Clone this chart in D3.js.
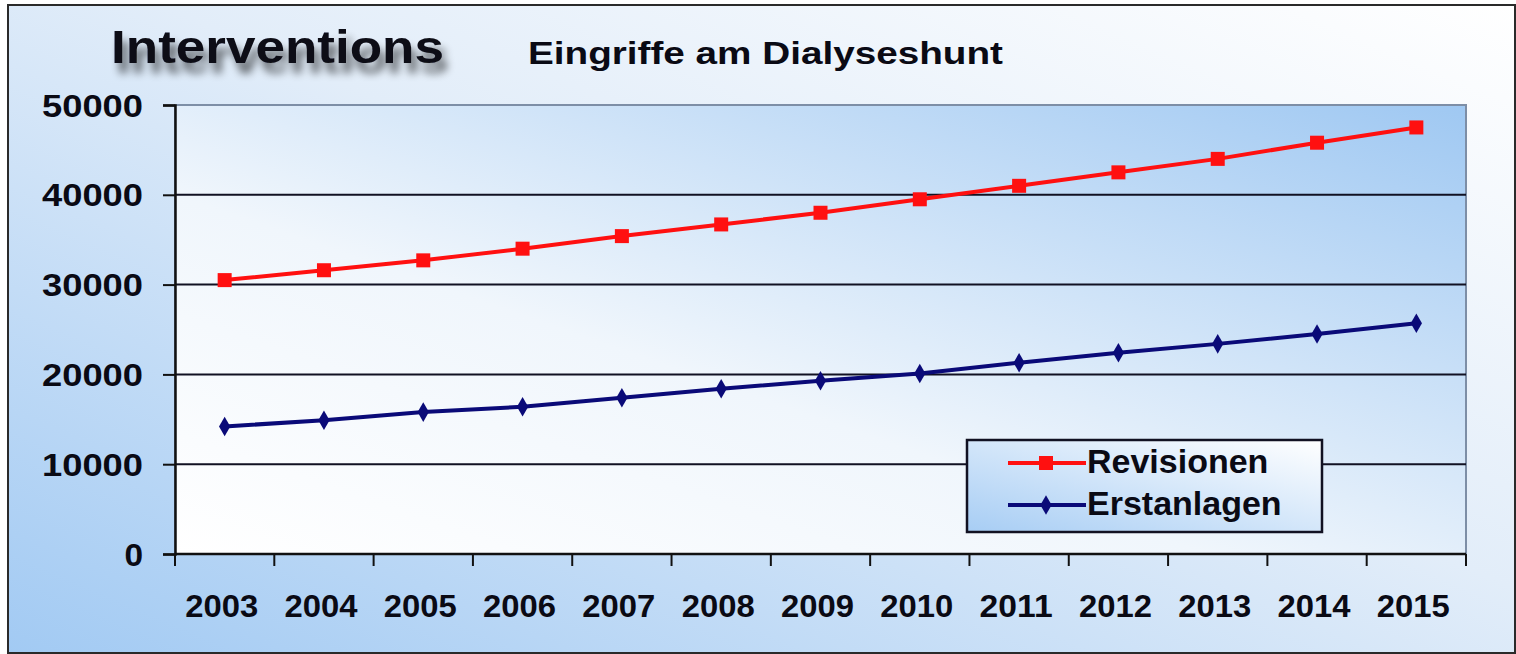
<!DOCTYPE html>
<html>
<head>
<meta charset="utf-8">
<script src="https://cdn.jsdelivr.net/npm/d3@7"></script>
<style>
  body { margin: 0; background: #fff; }
  text { font-family: "Liberation Sans", Arial, sans-serif; font-weight: bold; fill: #0a0a14; }
</style>
</head>
<body>
<div id="vis"></div>
<script>
const width = 1516;
const height = 654;

// data
const years = ["2003", "2004", "2005", "2006", "2007", "2008", "2009", "2010", "2011", "2012", "2013", "2014", "2015"];
const revisionen = [30500, 31600, 32700, 34000, 35400, 36700, 38000, 39500, 41000, 42500, 44000, 45800, 47500];
const erstanlagen = [14200, 14900, 15800, 16400, 17400, 18400, 19300, 20100, 21300, 22400, 23400, 24500, 25700];
const yTicks = [0, 10000, 20000, 30000, 40000, 50000];

const plot = { left: 175, right: 1466, top: 105, bottom: 554 };

const svg = d3.select("#vis").append("svg")
  .attr("width", width)
  .attr("height", height);

const defs = svg.append("defs");

// outer background: white top right -> blue bottom left
const bgGrad = defs.append("linearGradient")
  .attr("id", "bg-grad")
  .attr("x1", "100%").attr("y1", "0%")
  .attr("x2", "0%").attr("y2", "100%");
bgGrad.append("stop").attr("offset", "0%").attr("stop-color", "#ffffff");
bgGrad.append("stop").attr("offset", "45%").attr("stop-color", "#e2edf9");
bgGrad.append("stop").attr("offset", "100%").attr("stop-color", "#a2caf3");

// plot area: white bottom left -> blue top right
const plotGrad = defs.append("linearGradient")
  .attr("id", "plot-grad")
  .attr("x1", "0%").attr("y1", "100%")
  .attr("x2", "100%").attr("y2", "0%");
plotGrad.append("stop").attr("offset", "0%").attr("stop-color", "#ffffff");
plotGrad.append("stop").attr("offset", "40%").attr("stop-color", "#f0f6fc");
plotGrad.append("stop").attr("offset", "100%").attr("stop-color", "#9fc8f2");

// legend: blue left -> white right
const legGrad = defs.append("linearGradient")
  .attr("id", "leg-grad")
  .attr("x1", "0%").attr("y1", "100%")
  .attr("x2", "100%").attr("y2", "0%");
legGrad.append("stop").attr("offset", "0%").attr("stop-color", "#a7cdf4");
legGrad.append("stop").attr("offset", "100%").attr("stop-color", "#ffffff");

const shadow = defs.append("filter")
  .attr("id", "title-shadow")
  .attr("x", "-10%").attr("y", "-30%")
  .attr("width", "130%").attr("height", "190%");
shadow.append("feGaussianBlur").attr("in", "SourceAlpha").attr("stdDeviation", 4).attr("result", "blur");
shadow.append("feOffset").attr("in", "blur").attr("dx", 5).attr("dy", 10).attr("result", "off");
shadow.append("feComponentTransfer").attr("in", "off").attr("result", "soft")
  .append("feFuncA").attr("type", "linear").attr("slope", 0.6);
const merge = shadow.append("feMerge");
merge.append("feMergeNode").attr("in", "soft");
merge.append("feMergeNode").attr("in", "SourceGraphic");

// outer frame
svg.append("rect")
  .attr("x", 8).attr("y", 5)
  .attr("width", width - 9).attr("height", height - 6)
  .attr("fill", "url(#bg-grad)")
  .attr("stroke", "#2a2a2a")
  .attr("stroke-width", 2);

// scales
const x = d3.scaleBand()
  .domain(years)
  .range([plot.left, plot.right]);

const y = d3.scaleLinear()
  .domain([0, 50000])
  .range([plot.bottom, plot.top]);

// plot area
svg.append("rect")
  .attr("x", plot.left).attr("y", plot.top)
  .attr("width", plot.right - plot.left)
  .attr("height", plot.bottom - plot.top)
  .attr("fill", "url(#plot-grad)")
  .attr("stroke", "#7d8ea6")
  .attr("stroke-width", 2);

// gridlines
svg.append("g")
  .selectAll("line")
  .data(yTicks.filter(d => d > 0 && d < 50000))
  .join("line")
  .attr("x1", plot.left).attr("x2", plot.right)
  .attr("y1", d => y(d)).attr("y2", d => y(d))
  .attr("stroke", "#111122")
  .attr("stroke-width", 2);

// y axis
const yAxis = d3.axisLeft(y)
  .tickValues(yTicks)
  .tickSize(12)
  .tickPadding(20)
  .tickFormat(d => d);

const gy = svg.append("g")
  .attr("transform", `translate(${plot.left},0)`)
  .call(yAxis);
gy.select(".domain").attr("stroke", "#111").attr("stroke-width", 2.5);
gy.selectAll(".tick line").attr("stroke", "#111").attr("stroke-width", 2);
gy.selectAll(".tick text")
  .attr("font-size", 31)
  .attr("dy", "0.36em")
  .attr("lengthAdjust", "spacingAndGlyphs")
  .attr("textLength", d => String(d).length * 20.6 - 2);

// x axis: ticks on band boundaries
const boundaries = years.map(d => x(d)).concat([plot.right]);
svg.append("line")
  .attr("x1", plot.left).attr("x2", plot.right)
  .attr("y1", plot.bottom).attr("y2", plot.bottom)
  .attr("stroke", "#111").attr("stroke-width", 2.5);
svg.append("g")
  .selectAll("line")
  .data(boundaries)
  .join("line")
  .attr("x1", d => d).attr("x2", d => d)
  .attr("y1", plot.bottom).attr("y2", plot.bottom + 12)
  .attr("stroke", "#111").attr("stroke-width", 2);
svg.append("g")
  .selectAll("text")
  .data(years)
  .join("text")
  .attr("x", d => x(d) + x.bandwidth() / 2 - 3)
  .attr("y", 617)
  .attr("text-anchor", "middle")
  .attr("font-size", 32)
  .attr("lengthAdjust", "spacingAndGlyphs")
  .attr("textLength", 73)
  .text(d => d);

// lines
const line = d3.line()
  .x((d, i) => x(years[i]) + x.bandwidth() / 2)
  .y(d => y(d));

const diamond = d3.symbol().type(d3.symbolDiamond).size(110);

svg.append("path")
  .datum(erstanlagen)
  .attr("fill", "none")
  .attr("stroke", "#0a0a78")
  .attr("stroke-width", 4)
  .attr("d", line);
svg.append("g")
  .selectAll("path")
  .data(erstanlagen)
  .join("path")
  .attr("transform", (d, i) => `translate(${x(years[i]) + x.bandwidth() / 2},${y(d)})`)
  .attr("d", diamond)
  .attr("fill", "#0a0a78");

svg.append("path")
  .datum(revisionen)
  .attr("fill", "none")
  .attr("stroke", "#ff1010")
  .attr("stroke-width", 4)
  .attr("d", line);
svg.append("g")
  .selectAll("rect")
  .data(revisionen)
  .join("rect")
  .attr("x", (d, i) => x(years[i]) + x.bandwidth() / 2 - 7)
  .attr("y", d => y(d) - 7)
  .attr("width", 14).attr("height", 14)
  .attr("fill", "#ff1010");

// titles
svg.append("text")
  .attr("x", 111)
  .attr("y", 63)
  .attr("font-size", 46)
  .attr("lengthAdjust", "spacingAndGlyphs")
  .attr("textLength", 333)
  .attr("filter", "url(#title-shadow)")
  .text("Interventions");

svg.append("text")
  .attr("x", 528)
  .attr("y", 64)
  .attr("font-size", 32)
  .attr("lengthAdjust", "spacingAndGlyphs")
  .attr("textLength", 475)
  .text("Eingriffe am Dialyseshunt");

// legend
const legend = svg.append("g");
legend.append("rect")
  .attr("x", 967).attr("y", 440)
  .attr("width", 355).attr("height", 92)
  .attr("fill", "url(#leg-grad)")
  .attr("stroke", "#111122")
  .attr("stroke-width", 2.5);

const legendItems = [
  { name: "Revisionen", color: "#ff1010", yPos: 463, marker: "square" },
  { name: "Erstanlagen", color: "#0a0a78", yPos: 505, marker: "diamond" }
];

legendItems.forEach(item => {
  legend.append("line")
    .attr("x1", 1008).attr("x2", 1086)
    .attr("y1", item.yPos).attr("y2", item.yPos)
    .attr("stroke", item.color).attr("stroke-width", 4);
  if (item.marker === "square") {
    legend.append("rect")
      .attr("x", 1039).attr("y", item.yPos - 7)
      .attr("width", 14).attr("height", 14)
      .attr("fill", item.color);
  } else {
    legend.append("path")
      .attr("transform", `translate(1046,${item.yPos})`)
      .attr("d", diamond)
      .attr("fill", item.color);
  }
  legend.append("text")
    .attr("x", 1087)
    .attr("y", item.yPos + 10)
    .attr("font-size", 34)
    .text(item.name);
});
</script>
</body>
</html>
